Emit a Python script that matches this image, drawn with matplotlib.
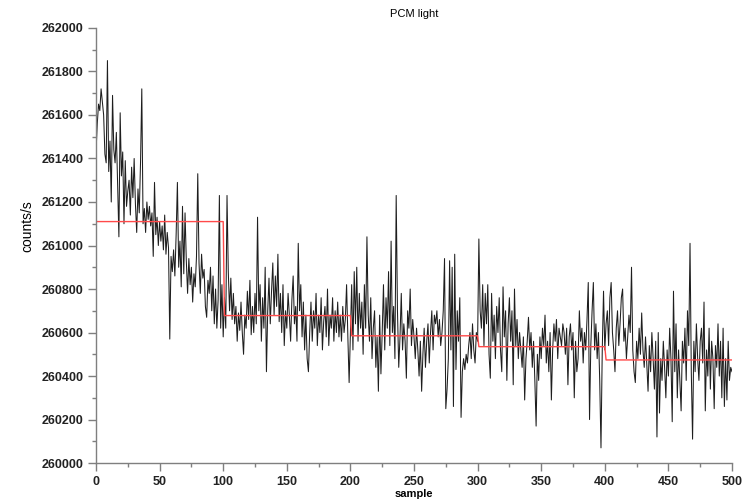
import numpy as np
import matplotlib
matplotlib.use("Agg")
import matplotlib.pyplot as plt
from matplotlib.ticker import MultipleLocator

# counts/s per sample
counts = [
    261430, 261560, 261650, 261620, 261720, 261660, 261600, 261420, 261380, 261850,
    261340, 261480, 261200, 261690, 261440, 261380, 261520, 261290, 261040, 261610,
    261320, 261430, 261100, 261390, 261180, 261250, 261300, 261140, 261360, 261220,
    261400, 261190, 261060, 261260, 261150, 261380, 261720, 261100, 261170, 261060,
    261200, 261120, 261180, 261090, 261150, 260950, 261290, 261050, 261130, 261000,
    261110, 261020, 261090, 260980, 261140, 260960, 261060, 260990, 260570, 260950,
    260880, 260980, 260860, 261050, 261290, 260900, 261020, 260810, 261180, 260870,
    261150, 260930, 260780, 260940, 260820, 260900, 260740, 260870, 260810, 260950,
    261330, 260920, 260780, 260960, 260850, 260890, 260720, 260670, 260840, 260780,
    260900, 260700, 260860, 260640, 260800, 260620, 260750, 261230, 260620, 260820,
    260580, 260760, 260620, 261230, 260880, 260700, 260850, 260660, 260780, 260640,
    260720, 260560, 260690, 260610, 260740, 260600, 260500, 260680, 260620, 260790,
    260660, 260840, 260590, 260720, 260600, 260780, 260640, 261130, 260700, 260820,
    260560, 260760, 260620, 260900, 260420, 260700, 260850, 260640, 260790, 260920,
    260680, 260860, 260720, 260960, 260650, 260780, 260600, 260820, 260540, 260700,
    260620, 260780, 260680, 260560, 260750, 260860, 260640, 260720, 260560, 261010,
    260700, 260820, 260580, 260740, 260520, 260680, 260480, 260420, 260600, 260740,
    260560, 260700, 260620, 260780, 260540, 260680, 260600, 260760, 260520, 260650,
    260720, 260580, 260800, 260540, 260680, 260620, 260760, 260560, 260700, 260600,
    260740, 260580, 260680, 260560, 260720, 260600, 260660, 260820, 260580, 260370,
    260600, 260820, 260520, 260880, 260640, 260900, 260560, 260780, 260620, 260740,
    260500, 260820, 260620, 261040, 260680, 260560, 260760, 260480, 260620, 260700,
    260440, 260580, 260330, 260680, 260410, 260600, 260820, 260520, 260760, 260620,
    260880, 260540, 261020, 260600, 260720, 260480, 261230, 260700, 260440, 260580,
    260780, 260520, 260640, 260560, 260390, 260700, 260620, 260800, 260540, 260660,
    260580, 260480, 260620, 260520, 260400, 260560, 260330, 260500, 260620, 260440,
    260560, 260640, 260460, 260600, 260700, 260520, 260680, 260640, 260700, 260580,
    260660, 260540, 260600, 260700, 260940, 260250, 260340, 260480, 260930, 260520,
    260900, 260260, 260960, 260430, 260700, 260560, 260760, 260210, 260420, 260480,
    260430, 260500, 260460, 260540, 260600, 260480, 260640, 260520, 260460, 260600,
    260560, 261030, 260700, 260620, 260820, 260540, 260780, 260640, 260820, 260500,
    260390, 260780, 260560, 260680, 260480, 260720, 260600, 260760, 260520, 260420,
    260810, 260580, 260700, 260380, 260640, 260760, 260560, 260700, 260360, 260800,
    260540, 260660, 260480, 260600, 260520, 260440, 260580, 260290, 260480, 260560,
    260670, 260520, 260600, 260440, 260560, 260380, 260170, 260500, 260380, 260580,
    260480, 260620, 260540, 260680, 260460, 260560, 260420, 260600, 260290, 260520,
    260640, 260560, 260660, 260480, 260620, 260580, 260540, 260640, 260600, 260500,
    260620, 260360, 260580, 260640, 260520, 260600, 260300, 260560, 260420, 260480,
    260700, 260560, 260620, 260460, 260600, 260520, 260660, 260830, 260200, 260540,
    260700, 260830, 260520, 260640, 260480, 260600, 260380, 260070, 260520, 260790,
    260520, 260640, 260700, 260540, 260760, 260830, 260600, 260520, 260420, 260620,
    260700, 260540, 260640, 260760, 260800, 260560, 260620, 260480, 260580, 260680,
    260600, 260900, 260520, 260420, 260370, 260560, 260480, 260620, 260500, 260690,
    260520, 260440, 260580, 260460, 260330, 260540, 260420, 260600, 260480, 260340,
    260560, 260120, 260600, 260230, 260480, 260380, 260560, 260440, 260300, 260520,
    260400, 260620, 260480, 260190, 260790, 260420, 260640, 260300, 260520, 260380,
    260240, 260560, 260460, 260620, 260380, 260700, 260540, 261010, 260420, 260110,
    260560, 260420, 260640, 260480, 260380, 260560, 260620, 260460, 260740, 260240,
    260520, 260400, 260620, 260340, 260560, 260480, 260250, 260540, 260440, 260640,
    260400, 260560, 260300, 260620, 260260, 260480, 260290, 260560, 260380, 260440,
    260420,
]

# block means (red line), one per 100 samples
block_means = [261110, 260678, 260585, 260535, 260474]
block_size = 100

samples = np.arange(len(counts))
mean_line = np.concatenate([[block_means[0]], np.repeat(block_means, block_size)])

fig = plt.figure(figsize=(7.5, 4.99), dpi=100)
ax = fig.add_axes([0.128, 0.072, 0.848, 0.872])

ax.plot(samples, counts, color='#1e1e1e', lw=0.75)
ax.plot(np.arange(len(mean_line)), mean_line, color='#ff4a4a', lw=1.0)

ax.set_xlim(0, 500)
ax.set_ylim(260000, 262000)
ax.xaxis.set_major_locator(MultipleLocator(50))
ax.xaxis.set_minor_locator(MultipleLocator(25))
ax.yaxis.set_major_locator(MultipleLocator(200))
ax.yaxis.set_minor_locator(MultipleLocator(100))

for s in ['top', 'right']:
    ax.spines[s].set_visible(False)
for s in ['left', 'bottom']:
    ax.spines[s].set_color('#7f7f7f')
    ax.spines[s].set_linewidth(1.0)

ax.tick_params(which='major', length=6, width=1, color='#7f7f7f', direction='out', pad=3)
ax.tick_params(which='minor', length=3, width=1, color='#7f7f7f', direction='out')
for lab in ax.get_xticklabels() + ax.get_yticklabels():
    lab.set_fontfamily('Liberation Sans')
    lab.set_fontsize(9)
    lab.set_fontweight('bold')
    lab.set_color('#222222')

ax.set_title('PCM light', fontsize=8, family='Liberation Sans', pad=8)
ax.set_xlabel('sample', fontsize=8, family='Liberation Sans', fontweight='bold', labelpad=1)
ax.set_ylabel('counts/s', fontsize=10, family='Liberation Sans')
ax.yaxis.set_label_coords(-0.097, 0.545)

fig.savefig('out.png', dpi=100)
